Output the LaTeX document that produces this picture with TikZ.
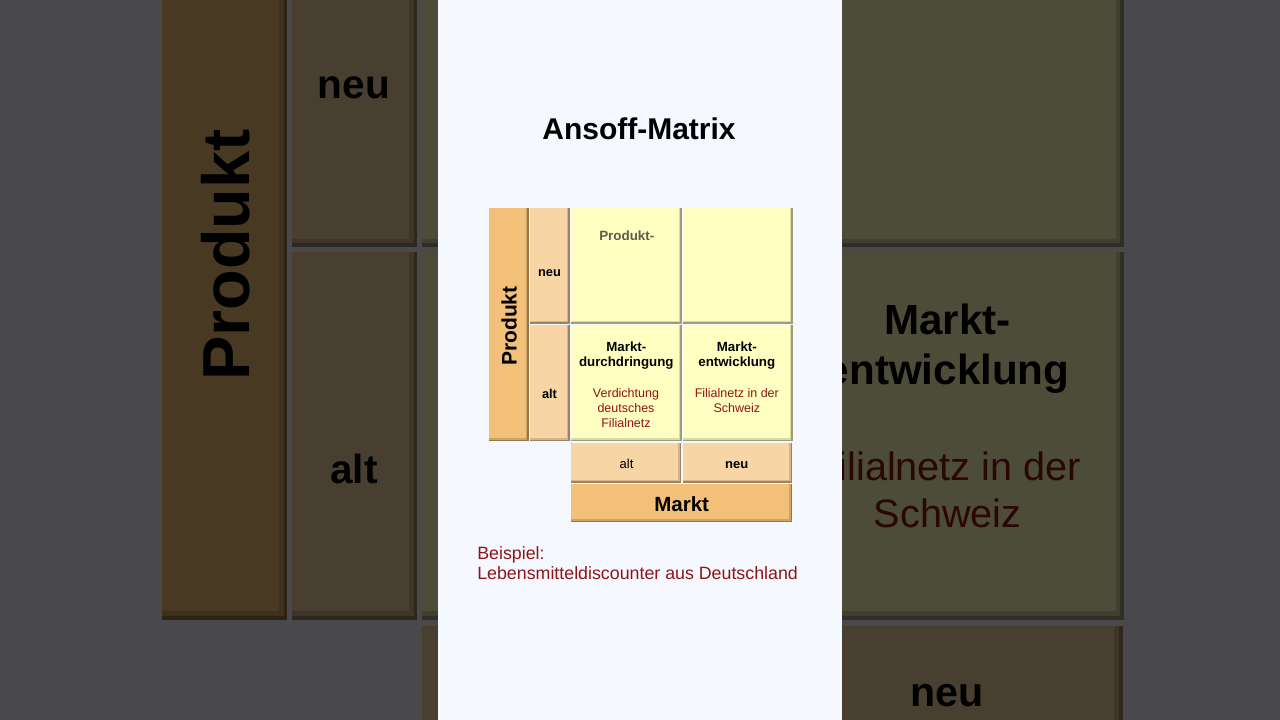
\documentclass[tikz,border=0pt]{standalone}
\usepackage{fontspec}
\setmainfont{Liberation Sans}
\definecolor{pagebg}{HTML}{F5F8FF}
\definecolor{dimc}{HTML}{F2C078}
\definecolor{labc}{HTML}{F8D5A5}
\definecolor{fieldc}{HTML}{FFFFC2}
\definecolor{exred}{HTML}{8E1515}
\definecolor{ghost}{HTML}{5C5C4A}
\newcommand\ansfs[2]{\fontsize{#1}{#2}\selectfont}
\newcommand\ansCell[5]{%
  \fill[#5!62!black] (#1,#2) rectangle (#3,#4);
  \fill[#5!85!black] (#1,#2) rectangle (#3-1.2,#4-1.2);
  \fill[#5] (#1,#2) rectangle (#3-2.6,#4-2.6);
}
\tikzset{txt/.style={inner sep=0pt, outer sep=0pt, anchor=base}}
\newcommand\ansoffdraw[1]{%
  \ansCell{489}{208}{528.5}{441}{dimc}
  \ansCell{530}{208}{569.5}{323.5}{labc}
  \ansCell{530}{325}{569.5}{441}{labc}
  \ansCell{571}{208}{681.5}{323.5}{fieldc}
  \ansCell{683}{208}{792.5}{323.5}{fieldc}
  \ansCell{571}{325}{681.5}{441}{fieldc}
  \ansCell{683}{325}{792.5}{441}{fieldc}
  \ansCell{571}{443}{681}{482.5}{labc}
  \ansCell{683}{443}{792}{482.5}{labc}
  \ansCell{571}{484}{792}{522}{dimc}
  \node[txt, rotate=90, font=\ansfs{21}{25}\bfseries] (#1prod) at (516.7,326) {Produkt};
  \node[txt, font=\ansfs{12.8}{15}\bfseries] (#1pneu) at (549.5,276.7) {neu};
  \node[txt, font=\ansfs{12.8}{15}\bfseries] (#1palt) at (549.5,398) {alt};
  \node[txt, font=\ansfs{13.4}{15.7}\bfseries, text=ghost] (#1pe) at (626.8,240.7) {Produkt-};
  \node[txt, align=center, font=\ansfs{13.3}{15.7}\bfseries] (#1md) at (626.3,366.7) {Markt-\\durchdringung};
  \node[txt, align=center, font=\ansfs{12.5}{15}, text=exred] (#1mdx) at (626,427) {Verdichtung\\deutsches\\Filialnetz};
  \node[txt, align=center, font=\ansfs{13.3}{15.7}\bfseries] (#1me) at (736.8,366.7) {Markt-\\entwicklung};
  \node[txt, align=center, font=\ansfs{12.5}{15}, text=exred] (#1mex) at (736.8,412) {Filialnetz in der\\Schweiz};
  \node[txt, font=\ansfs{13}{15}] (#1malt) at (626.5,468.3) {alt};
  \node[txt, font=\ansfs{13}{15}\bfseries] (#1mneu) at (736.7,468.3) {neu};
  \node[txt, font=\ansfs{20.5}{24}\bfseries] (#1markt) at (681.7,511) {Markt};
}
\begin{document}
\begin{tikzpicture}[x=1pt,y=-1pt]
\useasboundingbox (0,0) rectangle (1280,720);
\fill[pagebg] (0,0) rectangle (1280,720);
\begin{scope}[shift={(-1388,-778.25)}, scale=3.17, transform shape]
\ansoffdraw{bg}
\end{scope}
\fill[black, opacity=0.7] (0,0) rectangle (1280,720);
\fill[pagebg] (438,0) rectangle (842,720);
\node[txt, font=\ansfs{30}{36}\bfseries] (title) at (639,139.5) {Ansoff-Matrix};
\ansoffdraw{}
\node[txt, anchor=base west, align=left, font=\ansfs{17.8}{20}, text=exred] (beisp) at (477.3,579.3) {Beispiel:\\Lebensmitteldiscounter aus Deutschland};
\end{tikzpicture}
\end{document}
